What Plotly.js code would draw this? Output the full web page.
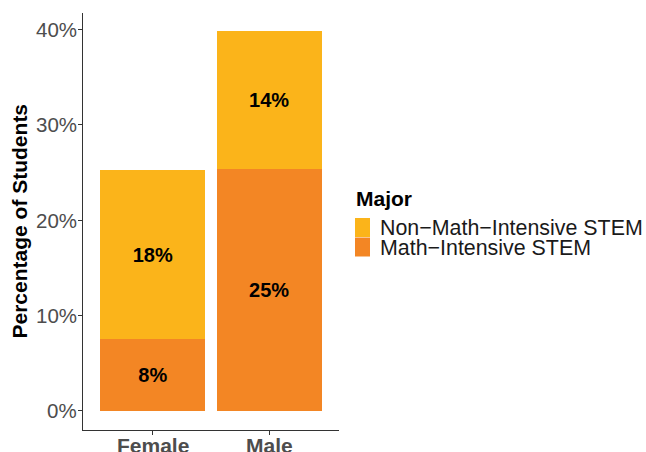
<!DOCTYPE html>
<html><head><meta charset="utf-8">
<script src="https://cdn.plot.ly/plotly-3.0.1.min.js"></script>
<style>html,body{margin:0;padding:0;background:#fff}</style>
</head><body>
<div id="chart" style="width:646px;height:452px"></div>
<script>
const genders = ["Female", "Male"];
const mathIntensive = [7.5, 25.4];
const nonMathIntensive = [17.8, 14.4];
const seriesNames = ["Math\u2212Intensive STEM", "Non\u2212Math\u2212Intensive STEM"];
const seriesColors = ["#F38624", "#FBB41A"];
const legendTitle = "Major";
const yTitle = "Percentage of Students";
const yTicks = [0, 10, 20, 30, 40];
const yTickLabels = ["0%", "10%", "20%", "30%", "40%"];

const FONT = "Liberation Sans, Arial, Helvetica, sans-serif";
function lbl(v){ return v.map(x => Math.round(x) + "%"); }

const common = {
  type: "bar", x: genders, width: 0.9,
  textposition: "inside", insidetextanchor: "middle",
  constraintext: "none",
  textfont: {family: FONT, size: 20, color: "#000000", weight: "bold"},
  hoverinfo: "skip", showlegend: false
};
const traces = [
  Object.assign({}, common, {y: mathIntensive, name: seriesNames[0], text: lbl(mathIntensive), marker: {color: seriesColors[0], line: {width: 0}}}),
  Object.assign({}, common, {y: nonMathIntensive, name: seriesNames[1], text: lbl(nonMathIntensive), marker: {color: seriesColors[1], line: {width: 0}}})
];

// plot area in pixels: x 83..339, y 13..430
const PL = 83, PW = 256, PT = 13, PH = 417;
const px = x => (x - PL) / PW;
const py = y => (PT + PH - y) / PH;

const shapes = [];
const annotations = [];
// y-axis title
annotations.push({xref: "paper", yref: "paper", x: px(19), y: py(221.5), xanchor: "center", yanchor: "middle",
  textangle: -90, text: yTitle, showarrow: false,
  font: {family: FONT, size: 21, color: "#000", weight: "bold"}});
// y tick labels placed by the y axis scale
yTicks.forEach((t, i) => annotations.push({xref: "paper", yref: "y", x: px(78), y: t, xanchor: "right", yanchor: "middle",
  text: yTickLabels[i], showarrow: false, borderpad: 0,
  font: {family: FONT, size: 20.5, color: "#4D4D4D"}}));
// x tick labels (category positions from the x axis)
genders.forEach(g => annotations.push({xref: "x", yref: "paper", x: g, y: py(433), xanchor: "center", yanchor: "top",
  text: g, showarrow: false, borderpad: 0,
  font: {family: FONT, size: 21, color: "#4D4D4D", weight: "bold"}}));
// manual legend (ggplot style keys)
annotations.push({xref: "paper", yref: "paper", x: px(354), y: py(198), xanchor: "left", yanchor: "middle",
  text: legendTitle, showarrow: false,
  font: {family: FONT, size: 21, color: "#000", weight: "bold"}});
[1, 0].forEach((k, i) => {
  const top = 218 + i * 19.5;
  shapes.push({type: "rect", xref: "paper", yref: "paper",
    x0: px(355), x1: px(370), y0: py(top + 19), y1: py(top),
    fillcolor: seriesColors[k], line: {width: 0}});
  annotations.push({xref: "paper", yref: "paper", x: px(379), y: py(top + 10), xanchor: "left", yanchor: "middle",
    text: seriesNames[k], showarrow: false, borderpad: 0,
    font: {family: FONT, size: 21.4, color: "#1A1A1A"}});
});

const layout = {
  width: 646, height: 452,
  margin: {l: PL, r: 646 - PL - PW, t: PT, b: 452 - PT - PH, pad: 0},
  paper_bgcolor: "#fff", plot_bgcolor: "#fff",
  barmode: "stack",
  font: {family: FONT, color: "#000"},
  showlegend: false,
  xaxis: {
    type: "category", categoryarray: genders,
    range: [-0.6, 1.6], showline: true, linecolor: "#333", linewidth: 1.1,
    ticks: "outside", ticklen: 4, tickcolor: "#333", tickwidth: 1.1,
    showticklabels: false,
    showgrid: false, zeroline: false
  },
  yaxis: {
    range: [-2.0, 41.72], tickvals: yTicks,
    showline: true, linecolor: "#333", linewidth: 1.1,
    ticks: "outside", ticklen: 4, tickcolor: "#333", tickwidth: 1.1,
    showticklabels: false,
    showgrid: false, zeroline: false
  },
  shapes: shapes,
  annotations: annotations
};
Plotly.newPlot("chart", traces, layout, {displayModeBar: false, staticPlot: true});
</script>
</body></html>
